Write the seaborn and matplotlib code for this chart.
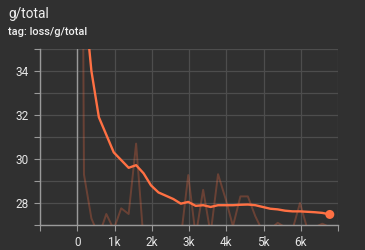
import matplotlib
matplotlib.use("Agg")
import matplotlib.pyplot as plt
import seaborn as sns
import pandas as pd

# data
steps = [100, 180, 380, 580, 780, 980, 1180, 1380, 1580, 1780, 1980, 2180,
         2380, 2580, 2780, 2980, 3180, 3380, 3580, 3780, 3980, 4180, 4380,
         4580, 4780, 4980, 5180, 5380, 5580, 5780, 5980, 6180, 6380, 6580, 6780]
raw = [55.0, 29.3, 27.3, 26.5, 27.5, 26.8, 27.76, 27.5, 30.7, 26.3, 26.6, 26.9,
       26.8, 26.7, 26.4, 29.27, 26.5, 28.6, 26.6, 29.31, 28.2, 26.95, 28.3,
       28.3, 27.4, 26.7, 26.8, 27.1, 26.9, 26.8, 28.0, 26.8, 26.9, 27.06, 26.9]
smoothed = [55.0, 37.5, 34.0, 31.9, 31.1, 30.3, 29.95, 29.6, 29.72, 29.35, 28.8,
            28.48, 28.33, 28.18, 27.97, 28.05, 27.87, 27.9, 27.82, 27.9, 27.9,
            27.9, 27.92, 27.93, 27.9, 27.82, 27.74, 27.71, 27.65, 27.62, 27.62,
            27.6, 27.58, 27.55, 27.48]
x_ticks = [0, 1000, 2000, 3000, 4000, 5000, 6000]
x_labels = ["0", "1k", "2k", "3k", "4k", "5k", "6k"]
y_ticks = [28, 30, 32, 34]
title = "g/total"
subtitle = "tag: loss/g/total"

BG = "#303030"
ORANGE = "#ff7043"
TXT = "#e6e6e6"
GRID = "#4d4d4d"

sns.set_theme(style="dark")
plt.rcParams["font.family"] = ["Roboto", "DejaVu Sans"]

df = pd.DataFrame({"step": steps, "raw": raw, "smoothed": smoothed})

fig = plt.figure(figsize=(3.65, 2.5), dpi=100, facecolor=BG)
ax = fig.add_axes([40 / 365, 1 - 225 / 250, (338 - 40) / 365, (225 - 49) / 250])
ax.set_facecolor(BG)

sns.lineplot(data=df, x="step", y="raw", ax=ax, color=ORANGE, alpha=0.28,
             linewidth=1.4, zorder=3)
sns.lineplot(data=df, x="step", y="smoothed", ax=ax, color=ORANGE,
             linewidth=1.7, zorder=4)
last = df.iloc[[-1]]
sns.scatterplot(data=last, x="step", y="smoothed", ax=ax, color=ORANGE,
                s=42, edgecolor="none", zorder=5, clip_on=False)

ax.set_xlim(-1000, 7000)
ax.set_ylim(27, 35)

# grid at every integer / every 1k
ax.set_xticks(list(range(-1000, 7001, 1000)))
ax.set_xticklabels([""] + x_labels + [""])
ax.set_yticks(list(range(27, 36)))
ax.set_yticklabels([str(v) if v in y_ticks else "" for v in range(27, 36)])
ax.grid(True, color=GRID, linewidth=0.9)
ax.set_axisbelow(True)
ax.axvline(0, color="#9a9a9a", linewidth=1.0, zorder=2)

ax.tick_params(axis="both", colors="#9a9a9a", labelcolor=TXT, labelsize=8.5,
               length=4, width=0.8, left=True, bottom=True)
ax.tick_params(axis="x", pad=4)
ax.tick_params(axis="y", pad=4)

for side in ["top", "right"]:
    ax.spines[side].set_visible(False)
for side in ["left", "bottom"]:
    ax.spines[side].set_visible(True)
    ax.spines[side].set_color("#9a9a9a")
    ax.spines[side].set_linewidth(1.0)

ax.set_xlabel("")
ax.set_ylabel("")

fig.text(8 / 365, 1 - 18 / 250, title, color="#f0f0f0", fontsize=9.8,
         ha="left", va="baseline")
fig.text(8 / 365, 1 - 35 / 250, subtitle, color="#f0f0f0", fontsize=7.9,
         fontweight="medium", ha="left", va="baseline")

fig.savefig("out.png", dpi=100, facecolor=BG)
